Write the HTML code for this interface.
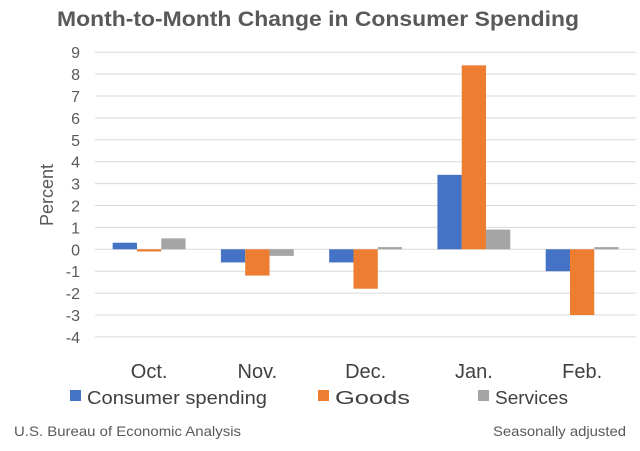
<!DOCTYPE html>
<html><head><meta charset="utf-8"><style>
body{margin:0;background:#fff;font-family:"Liberation Sans",sans-serif;}
svg text{font-family:"Liberation Sans",sans-serif;}
</style></head><body>
<svg width="640" height="446" viewBox="0 0 640 446">
<text x="318" y="26" text-anchor="middle" font-size="21" font-weight="bold" fill="#595959" textLength="522" lengthAdjust="spacingAndGlyphs">Month-to-Month Change in Consumer Spending</text>
<g id="grid"></g>
<g id="bars"></g>
<g id="xlabels"></g>
<text transform="translate(53,195) rotate(-90)" text-anchor="middle" font-size="18" fill="#595959">Percent</text>
<g>
<rect x="70" y="390" width="11" height="11" fill="#4472c4"/>
<text x="87" y="404" font-size="18" fill="#404040" textLength="180" lengthAdjust="spacingAndGlyphs">Consumer spending</text>
<rect x="318" y="390" width="11" height="11" fill="#ed7d31"/>
<text x="335" y="404" font-size="18" fill="#404040" textLength="75" lengthAdjust="spacingAndGlyphs">Goods</text>
<rect x="478" y="390" width="11" height="11" fill="#a5a5a5"/>
<text x="495" y="404" font-size="18" fill="#404040" textLength="73" lengthAdjust="spacingAndGlyphs">Services</text>
</g>
<text x="14" y="436" font-size="14" fill="#595959" textLength="227" lengthAdjust="spacingAndGlyphs">U.S. Bureau of Economic Analysis</text>
<text x="493" y="436" font-size="14" fill="#595959" textLength="133" lengthAdjust="spacingAndGlyphs">Seasonally adjusted</text>
</svg>
<script>
const categories=["Oct.","Nov.","Dec.","Jan.","Feb."];
const consumer=[0.3,-0.6,-0.6,3.4,-1.0];
const goods=[-0.1,-1.2,-1.8,8.4,-3.0];
const services=[0.5,-0.3,0.1,0.9,0.1];
const yTicks=[9,8,7,6,5,4,3,2,1,0,-1,-2,-3,-4];
const NS="http://www.w3.org/2000/svg";
const x0=95,catW=108.25,barW=24.3;
function y(v){return 249.3-v*21.9;}
const grid=document.getElementById('grid');
yTicks.forEach(t=>{
 const l=document.createElementNS(NS,'line');
 l.setAttribute('x1',x0);l.setAttribute('x2',636);l.setAttribute('y1',y(t));l.setAttribute('y2',y(t));
 l.setAttribute('stroke','#d9d9d9');l.setAttribute('stroke-width','1');
 
 
 grid.appendChild(l);
 const tx=document.createElementNS(NS,'text');
 tx.setAttribute('x',80);tx.setAttribute('y',y(t)+6);tx.setAttribute('text-anchor','end');
 tx.setAttribute('font-size','16');tx.setAttribute('fill','#595959');
 tx.textContent=t;
 
 
 grid.appendChild(tx);
});
const bars=document.getElementById('bars');
const series=[[consumer,'#4472c4','consumer'],[goods,'#ed7d31','goods'],[services,'#a5a5a5','services']];
categories.forEach((c,i)=>{
 const cx=x0+catW*(i+0.5);
 series.forEach((s,j)=>{
  const v=s[0][i];
  const r=document.createElementNS(NS,'rect');
  r.setAttribute('x',cx-1.5*barW+j*barW);
  r.setAttribute('width',barW);
  r.setAttribute('y',Math.min(y(v),y(0)));
  r.setAttribute('height',Math.abs(y(v)-y(0)));
  r.setAttribute('fill',s[1]);
  
  
  bars.appendChild(r);
 });
 const tx=document.createElementNS(NS,'text');
 tx.setAttribute('x',cx);tx.setAttribute('y',378);tx.setAttribute('text-anchor','middle');
 tx.setAttribute('font-size','20');tx.setAttribute('fill','#404040');
 tx.textContent=c;
 
 
 document.getElementById('xlabels').appendChild(tx);
});
</script>
</body></html>
